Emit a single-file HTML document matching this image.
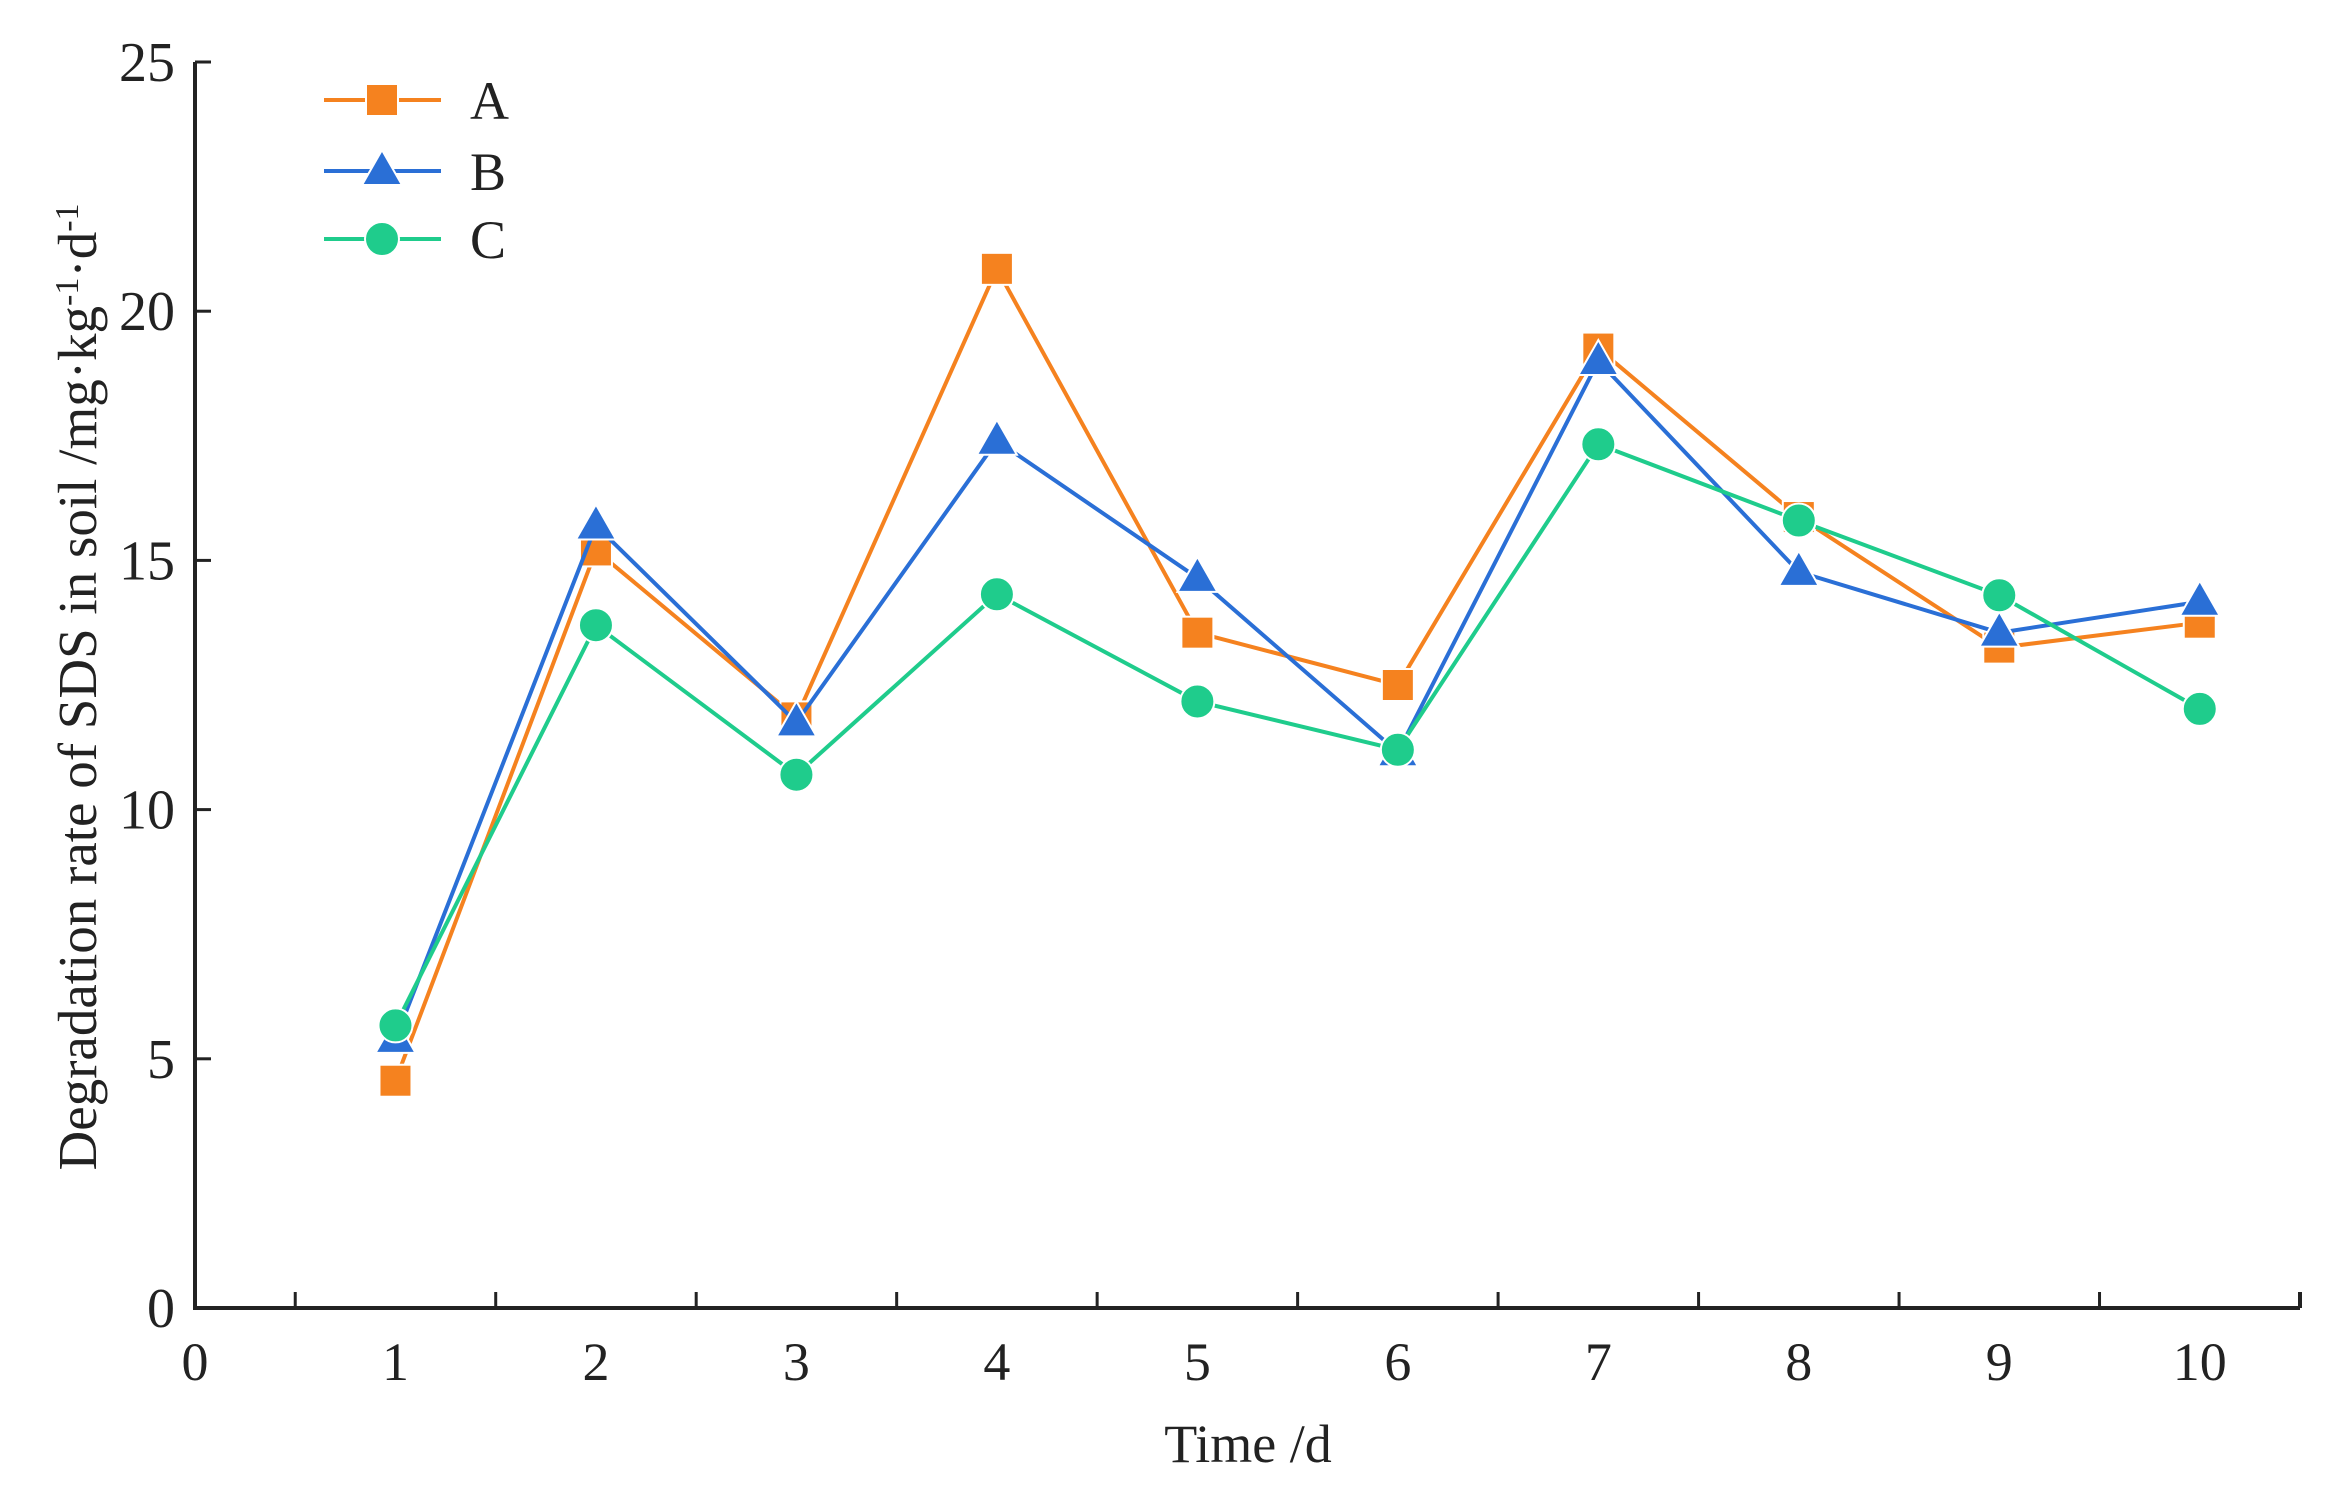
<!DOCTYPE html>
<html><head><meta charset="utf-8"><style>
body{margin:0;background:#fff;}
svg{display:block;font-family:"Liberation Serif",serif;}
</style></head><body>
<svg id="chart" width="2329" height="1494" viewBox="0 0 2329 1494" xmlns="http://www.w3.org/2000/svg">
<g id="axes"></g>
<g id="series"></g>
<g id="legend"></g>
<text x="1248" y="1462" font-size="54" text-anchor="middle" fill="#222">Time /d</text>
<text transform="translate(96,687) rotate(-90)" font-size="55" text-anchor="middle" fill="#222">Degradation rate of SDS in soil /mg·kg<tspan dy="-18" font-size="34">-1</tspan><tspan dy="18">·d</tspan><tspan dy="-18" font-size="34">-1</tspan></text>
</svg>
<script>
const days = [1,2,3,4,5,6,7,8,9,10];
const seriesA = [4.56,15.2,11.85,20.85,13.55,12.5,19.25,15.87,13.25,13.75];
const seriesB = [5.4,15.7,11.75,17.4,14.65,11.15,19.0,14.77,13.55,14.17];
const seriesC = [5.67,13.7,10.7,14.32,12.17,11.2,17.33,15.8,14.3,12.02];
const xTicks = [0,1,2,3,4,5,6,7,8,9,10];
const yTicks = [0,5,10,15,20,25];
const seriesNames = ["A","B","C"];

const NS="http://www.w3.org/2000/svg";
const X0=195,X1=2300,Y0=1308,Y1=62;
function sx(v){return X0+(v/10.5)*(X1-X0);}
function sy(v){return Y0-(v/25)*(Y0-Y1);}
function mk(tag,attrs,parent){const e=document.createElementNS(NS,tag);for(const k in attrs)e.setAttribute(k,attrs[k]);parent.appendChild(e);return e;}
const axes=document.getElementById('axes');
let el;
el=mk('line',{x1:X0,y1:Y0,x2:X1,y2:Y0,stroke:'#222','stroke-width':4},axes);


el=mk('line',{x1:X0,y1:Y0+2,x2:X0,y2:Y1,stroke:'#222','stroke-width':4},axes);


for(let i=0;i<10;i++){
  const xv=i+0.5;
  el=mk('line',{x1:sx(xv),y1:Y0,x2:sx(xv),y2:Y0-16,stroke:'#222','stroke-width':3},axes);
  
  
}
el=mk('line',{x1:X1,y1:Y0,x2:X1,y2:Y0-16,stroke:'#222','stroke-width':4},axes);


xTicks.forEach(t=>{
  el=mk('text',{x:sx(t),y:1380,'font-size':54,'text-anchor':'middle',fill:'#222'},axes);
  el.textContent=t;
  
  
});
yTicks.forEach(t=>{
  if(t>0){
    el=mk('line',{x1:X0,y1:sy(t),x2:X0+16,y2:sy(t),stroke:'#222','stroke-width':3},axes);
    
    
  }
  el=mk('text',{x:X0-20,y:sy(t)+19,'font-size':56,'text-anchor':'end',fill:'#222'},axes);
  el.textContent=t;
  
  
});
const colors=["#f5821f","#2a6fd6","#1fcc8c"];
const data=[seriesA,seriesB,seriesC];
const sg=document.getElementById('series');
function marker(kind,x,y,c,parent){
  let m;
  if(kind===0) m=mk('rect',{x:x-16,y:y-16,width:32,height:32,fill:c,stroke:'#fff','stroke-width':2},parent);
  else if(kind===1) m=mk('polygon',{points:`${x},${y-21} ${x+20},${y+14} ${x-20},${y+14}`,fill:c,stroke:'#fff','stroke-width':2},parent);
  else m=mk('circle',{cx:x,cy:y,r:17,fill:c,stroke:'#fff','stroke-width':2},parent);
  return m;
}
data.forEach((vals,si)=>{
  const g=mk('g',{},sg);
  
  
  const pts=vals.map((v,i)=>sx(days[i])+','+sy(v)).join(' ');
  const pl=mk('polyline',{points:pts,fill:'none',stroke:colors[si],'stroke-width':4},g);
  
  
  vals.forEach((v,i)=>{
    const m=marker(si,sx(days[i]),sy(v),colors[si],g);
    
    
  });
});
const lg=document.getElementById('legend');
const legY=[100,171,239];
seriesNames.forEach((n,si)=>{
  const g=mk('g',{},lg);
  
  
  mk('line',{x1:324,y1:legY[si],x2:441,y2:legY[si],stroke:colors[si],'stroke-width':4},g);
  marker(si,382,legY[si],colors[si],g);
  const t=mk('text',{x:470,y:legY[si]+19,'font-size':54,fill:'#222'},g);
  t.textContent=n;
});
</script>
</body></html>
